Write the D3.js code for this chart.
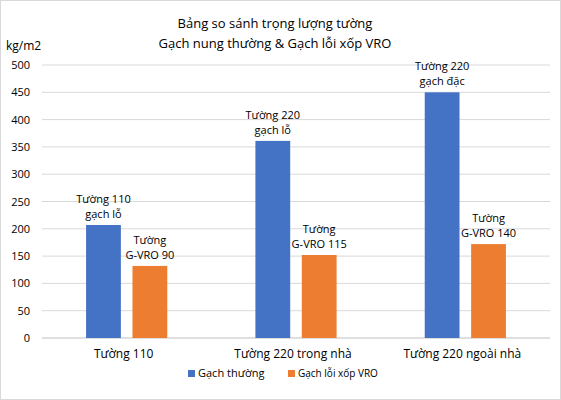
<!DOCTYPE html><html><head><meta charset="utf-8"><script src="https://cdn.jsdelivr.net/npm/d3@7"></script>
<style>body{margin:0;background:#fff}svg{font-family:"Open Sans",Calibri,sans-serif}</style></head><body><svg id="c" width="561" height="400"></svg><script>
const categories=["Tường 110","Tường 220 trong nhà","Tường 220 ngoài nhà"];
const seriesNames=["Gạch thường","Gạch lỗi xốp VRO"];
const gachThuong=[207,361,450];
const gachVRO=[132,152,172];
const labelsThuong=[["Tường 110","gạch lỗ"],["Tường 220","gạch lỗ"],["Tường 220","gạch đặc"]];
const labelsVRO=[["Tường","G-VRO 90"],["Tường","G-VRO 115"],["Tường","G-VRO 140"]];
const ticks=[0,50,100,150,200,250,300,350,400,450,500];
const colors=["#4472C4","#ED7D31"];
const svg=d3.select("#c");
svg.append("rect").attr("x",0.5).attr("y",0.5).attr("width",560).attr("height",399).attr("fill","#fff").attr("stroke","#d9d9d9");
const L=42,R=550,T=65,B=338;
const y=d3.scaleLinear().domain([0,500]).range([B,T]);
const x=d3.scaleBand().domain(categories).range([L,R]);
const xs=d3.scaleBand().domain([0,1]).range([0,x.bandwidth()]).paddingInner(0.25).paddingOuter(0.95);
svg.append("g").selectAll("line").data(ticks).join("line").attr("x1",L).attr("x2",R).attr("y1",d=>y(d)).attr("y2",d=>y(d)).attr("stroke",(d)=>d===0?"#bfbfbf":"#d9d9d9");
svg.append("g").selectAll("text").data(ticks).join("text").attr("x",30).attr("y",d=>y(d)+4).attr("text-anchor","end").attr("font-size",11).text(d=>d);
svg.append("text").attr("x",6).attr("y",50).attr("font-size",12).text("kg/m2");
svg.append("text").attr("x",275).attr("y",28).attr("text-anchor","middle").attr("font-size",13).text("Bảng so sánh trọng lượng tường");
svg.append("text").attr("x",275).attr("y",48).attr("text-anchor","middle").attr("font-size",13).text("Gạch nung thường & Gạch lỗi xốp VRO");
[gachThuong,gachVRO].forEach((arr,si)=>{
 const labs=si===0?labelsThuong:labelsVRO;
 const g=svg.append("g");
 g.selectAll("rect").data(arr).join("rect").attr("x",(d,i)=>x(categories[i])+xs(si)).attr("width",xs.bandwidth()).attr("y",d=>y(d)).attr("height",d=>B-y(d)).attr("fill",colors[si]);
 arr.forEach((d,i)=>{
  const cx=x(categories[i])+xs(si)+xs.bandwidth()/2;
  const t=g.append("text").attr("text-anchor","middle").attr("font-size",11);
  t.append("tspan").attr("x",cx).attr("y",y(d)-22).text(labs[i][0]);
  t.append("tspan").attr("x",cx).attr("y",y(d)-7).text(labs[i][1]);
 });
});
svg.append("g").selectAll("text").data(categories).join("text").attr("x",d=>x(d)+x.bandwidth()/2-3).attr("y",B+20).attr("text-anchor","middle").attr("font-size",12).text(d=>d);
const lx=[188,288];
seriesNames.forEach((n,i)=>{
 svg.append("rect").attr("x",lx[i]).attr("y",370).attr("width",7).attr("height",7).attr("fill",colors[i]);
 svg.append("text").attr("x",lx[i]+10).attr("y",377).attr("font-size",i?10:11).text(n);
});
</script></body></html>
